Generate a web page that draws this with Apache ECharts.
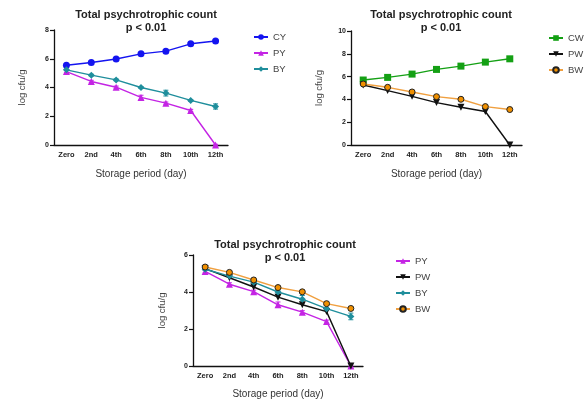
<!DOCTYPE html>
<html><head><meta charset="utf-8">
<script src="https://cdn.jsdelivr.net/npm/echarts@6/dist/echarts.min.js"></script>
<style>html,body{margin:0;padding:0;background:#fff}#c{width:584px;height:400px}</style>
</head><body><div id="c"></div>
<script>
var categories = ['Zero','2nd','4th','6th','8th','10th','12th'];
var CY = [5.55, 5.74, 5.98, 6.34, 6.53, 7.04, 7.23];
var PY = [5.11, 4.42, 4.02, 3.31, 2.91, 2.40, 0];
var BY = [5.23, 4.86, 4.53, 4.00, 3.61, 3.10, 2.68];
var CW = [5.70, 5.93, 6.22, 6.63, 6.92, 7.27, 7.56];
var PW = [5.26, 4.77, 4.27, 3.72, 3.31, 2.94, 0];
var BW = [5.35, 5.06, 4.65, 4.24, 4.01, 3.37, 3.11];
var errPY = [0.08, 0.08, 0.08, 0.15, 0.08, 0.08, 0.05];
var errBY = [0.05, 0.06, 0.06, 0.06, 0.2, 0.06, 0.18];
var errBW = [0.05, 0.05, 0.06, 0.06, 0.06, 0.1, 0.08];
var titleText = 'Total psychrotrophic count\np < 0.01';
var xName = 'Storage period (day)';
var yName = 'log cfu/g';

var styles = {
  CY: {color:'#1414f0', symbol:'circle', size:7},
  PY: {color:'#c424e4', symbol:'triangle', size:7},
  BY: {color:'#1f8e9c', symbol:'diamond', size:7},
  CW: {color:'#14a014', symbol:'rect', size:7},
  PW: {color:'#111111', symbol:'triangle', size:7, rotate:180},
  BW: {color:'#f0a040', symbol:'circle', size:6, fill:'#f09000', border:'#222'}
};
var dataMap = {CY:CY, PY:PY, BY:BY, CW:CW, PW:PW, BW:BW};
var errMap = {PY:errPY, BY:errBY, BW:errBW};

var grids = [
  {left:54, top:30, width:174, height:115},
  {left:351, top:31, width:171, height:114},
  {left:193, top:255, width:170, height:115}
];
var ymax = [8, 10, 6];
var panels = [['CY','PY','BY'], ['CW','PW','BW'], ['PY','PW','BY','BW']];
var titleX = [141, 436, 280];
var titleY = [3, 3, 233];
var legendPos = [{left:253, top:32}, {left:548, top:33}, {left:395, top:256}];

var font = 'Liberation Sans, Arial, sans-serif';
var xAxes = [], yAxes = [], titles = [], legends = [], series = [];
grids.forEach(function(g, i){
  xAxes.push({type:'category', gridIndex:i, data:categories, boundaryGap:true,
    axisLine:{lineStyle:{color:'#111', width:1.3}},
    axisTick:{alignWithLabel:true, length:4, lineStyle:{color:'#111', width:1.2}},
    axisLabel:{fontSize:7.5, fontWeight:'bold', color:'#222', margin:6, fontFamily:font, interval:0},
    name:xName, nameLocation:'middle', nameGap:i===2?23:24,
    nameTextStyle:{fontSize:10, color:'#333', fontFamily:font}});
  yAxes.push({type:'value', gridIndex:i, min:0, max:ymax[i], interval:2,
    axisLine:{show:true, lineStyle:{color:'#111', width:1.3}},
    axisTick:{show:true, length:4, lineStyle:{color:'#111', width:1.2}},
    splitLine:{show:false},
    axisLabel:{fontSize:7, fontWeight:'bold', color:'#222', margin:5, fontFamily:font},
    name:yName, nameLocation:'middle', nameGap:i===2?26:27, nameRotate:90,
    nameTextStyle:{fontSize:9.5, color:'#444', fontFamily:font}});
  titles.push({text:titleText, left:titleX[i], top:titleY[i], textAlign:'center',
    textStyle:{fontSize:11, fontWeight:'bold', color:'#222', fontFamily:font, lineHeight:13}});
  legends.push({orient:'vertical', left:legendPos[i].left, top:legendPos[i].top, padding:0,
    data:panels[i], itemWidth:14, itemHeight:7, itemGap:6,
    textStyle:{fontSize:9.5, color:'#444', fontFamily:font}});
  panels[i].forEach(function(n){
    var s = styles[n];
    series.push({type:'line', name:n, xAxisIndex:i, yAxisIndex:i, data:dataMap[n],
      symbol:s.symbol, symbolSize:s.size, symbolRotate:s.rotate||0,
      lineStyle:{color:s.color, width:1.4},
      itemStyle:{color:s.fill||s.color, borderColor:s.border||s.color, borderWidth:s.border?1:0},
      z:3, animation:false});
    if (errMap[n]) {
      var e = errMap[n];
      series.push({type:'custom', name:n+'err', xAxisIndex:i, yAxisIndex:i,
        data:dataMap[n].map(function(v,k){return [k, v, e[k]];}),
        renderItem:function(params, api){
          var x = api.value(0), v = api.value(1), d = api.value(2);
          var top = api.coord([x, v + d]), bot = api.coord([x, v - d]);
          var c = styles[n].color;
          return {type:'group', children:[
            {type:'line', shape:{x1:top[0], y1:top[1], x2:bot[0], y2:bot[1]}, style:{stroke:c, lineWidth:1}},
            {type:'line', shape:{x1:top[0]-2.5, y1:top[1], x2:top[0]+2.5, y2:top[1]}, style:{stroke:c, lineWidth:1}},
            {type:'line', shape:{x1:bot[0]-2.5, y1:bot[1], x2:bot[0]+2.5, y2:bot[1]}, style:{stroke:c, lineWidth:1}}
          ]};
        }, z:2, animation:false});
    }
  });
});

var chart = echarts.init(document.getElementById('c'), null, {renderer:'canvas'});
chart.setOption({backgroundColor:'#fff', animation:false, title:titles, legend:legends,
  grid:grids, xAxis:xAxes, yAxis:yAxes, series:series});
</script></body></html>
